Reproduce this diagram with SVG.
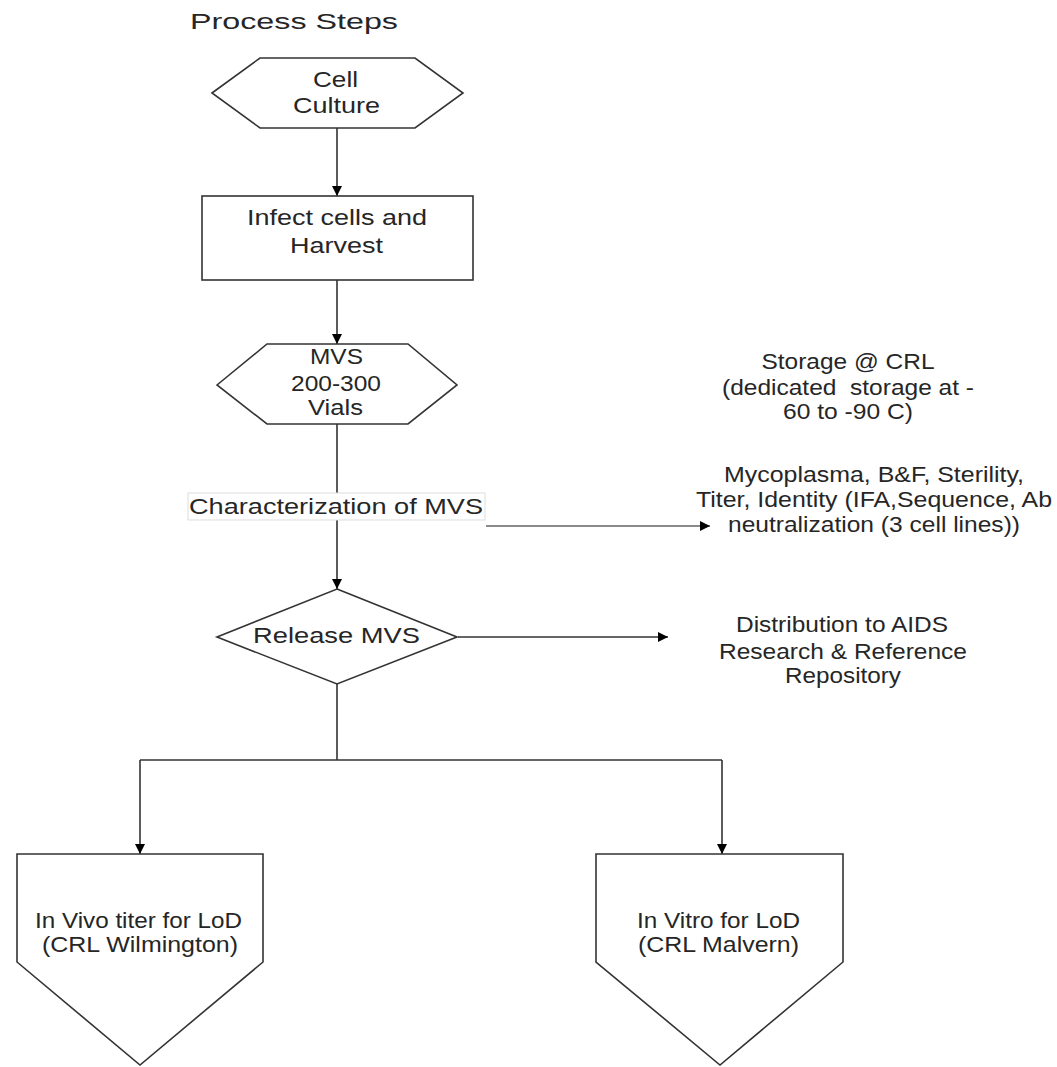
<svg xmlns="http://www.w3.org/2000/svg" width="1057" height="1067" viewBox="0 0 1057 1067">
<style>
  text { font-family: "Liberation Sans", Arial, sans-serif; font-size: 22.5px; fill: #262626; text-anchor: middle; }
  .shape { fill: #ffffff; stroke: #333333; stroke-width: 1.6; stroke-linejoin: miter; }
  .conn { fill: none; stroke: #333333; stroke-width: 1.6; }
  .conn-gray { fill: none; stroke: #8a8a8a; stroke-width: 2.2; }
</style>
<defs>
  <marker id="arrow" viewBox="0 0 10 10" refX="10" refY="5" markerWidth="10" markerHeight="10" markerUnits="userSpaceOnUse" orient="auto">
    <path d="M0,0 L10,5 L0,10 Z" fill="#000000"/>
  </marker>
</defs>
<rect x="0" y="0" width="1057" height="1067" fill="#ffffff"/>

<text id="title" x="294" y="29" font-size="25" textLength="208" lengthAdjust="spacingAndGlyphs">Process Steps</text>

<g id="connectors">
  <line class="conn" x1="337" y1="128" x2="337" y2="196" marker-end="url(#arrow)"/>
  <line class="conn" x1="337" y1="280" x2="337" y2="344" marker-end="url(#arrow)"/>
  <line class="conn" x1="337" y1="424" x2="337" y2="493"/>
  <line class="conn" x1="337" y1="520" x2="337" y2="589" marker-end="url(#arrow)"/>
  <line class="conn-gray" x1="486" y1="526" x2="710" y2="526" marker-end="url(#arrow)"/>
  <line class="conn" x1="458" y1="637" x2="668" y2="637" marker-end="url(#arrow)"/>
  <line class="conn" x1="337" y1="684" x2="337" y2="760"/>
  <line class="conn" x1="140" y1="760" x2="722" y2="760"/>
  <line class="conn" x1="140" y1="760" x2="140" y2="854" marker-end="url(#arrow)"/>
  <line class="conn" x1="722" y1="760" x2="722" y2="854" marker-end="url(#arrow)"/>
</g>

<g id="cell-culture">
  <polygon class="shape" points="212,93 260,58 415,58 463,93 415,128 260,128"/>
  <text x="335.5" y="87" textLength="45" lengthAdjust="spacingAndGlyphs">Cell</text>
  <text x="336.5" y="113" textLength="87" lengthAdjust="spacingAndGlyphs">Culture</text>
</g>

<g id="infect-harvest">
  <rect class="shape" x="202" y="196" width="271" height="84"/>
  <text x="337" y="225" textLength="180" lengthAdjust="spacingAndGlyphs">Infect cells and</text>
  <text x="336.5" y="253" textLength="93" lengthAdjust="spacingAndGlyphs">Harvest</text>
</g>

<g id="mvs-vials">
  <polygon class="shape" points="217,385 267,344 408,344 457,385 408,424 267,424"/>
  <text x="336.5" y="364" textLength="53" lengthAdjust="spacingAndGlyphs">MVS</text>
  <text x="336" y="391" textLength="90" lengthAdjust="spacingAndGlyphs">200-300</text>
  <text x="335.5" y="415" textLength="55" lengthAdjust="spacingAndGlyphs">Vials</text>
</g>

<g id="characterization">
  <rect x="188" y="493" width="297" height="27" fill="#ffffff" stroke="#dddddd" stroke-width="1"/>
  <text x="336" y="514" font-size="25" textLength="294" lengthAdjust="spacingAndGlyphs">Characterization of MVS</text>
</g>

<g id="storage">
  <text x="848" y="369" textLength="173" lengthAdjust="spacingAndGlyphs">Storage @ CRL</text>
  <text x="848" y="395" textLength="252" lengthAdjust="spacingAndGlyphs" xml:space="preserve">(dedicated  storage at -</text>
  <text x="848" y="419" textLength="130" lengthAdjust="spacingAndGlyphs">60 to -90 C)</text>
</g>

<g id="tests">
  <text x="874" y="482" textLength="300" lengthAdjust="spacingAndGlyphs">Mycoplasma, B&amp;F, Sterility,</text>
  <text x="874" y="507" textLength="356" lengthAdjust="spacingAndGlyphs">Titer, Identity (IFA,Sequence, Ab</text>
  <text x="874" y="532" textLength="292" lengthAdjust="spacingAndGlyphs">neutralization (3 cell lines))</text>
</g>

<g id="release-mvs">
  <polygon class="shape" points="337,589 457,637 337,684 217,637"/>
  <text x="336.5" y="643" textLength="167" lengthAdjust="spacingAndGlyphs">Release MVS</text>
</g>

<g id="distribution">
  <text x="842" y="632" textLength="212" lengthAdjust="spacingAndGlyphs">Distribution to AIDS</text>
  <text x="843" y="659" textLength="248" lengthAdjust="spacingAndGlyphs">Research &amp; Reference</text>
  <text x="843" y="683" textLength="116" lengthAdjust="spacingAndGlyphs">Repository</text>
</g>

<g id="in-vivo">
  <polygon class="shape" points="17,854 263,854 263,962 140,1065 17,962"/>
  <text x="138.5" y="928" textLength="207" lengthAdjust="spacingAndGlyphs">In Vivo titer for LoD</text>
  <text x="140" y="952" textLength="196" lengthAdjust="spacingAndGlyphs">(CRL Wilmington)</text>
</g>

<g id="in-vitro">
  <polygon class="shape" points="596,854 843,854 843,962 720,1065 596,962"/>
  <text x="718.5" y="928" textLength="163" lengthAdjust="spacingAndGlyphs">In Vitro for LoD</text>
  <text x="718.5" y="952" textLength="161" lengthAdjust="spacingAndGlyphs">(CRL Malvern)</text>
</g>
</svg>
